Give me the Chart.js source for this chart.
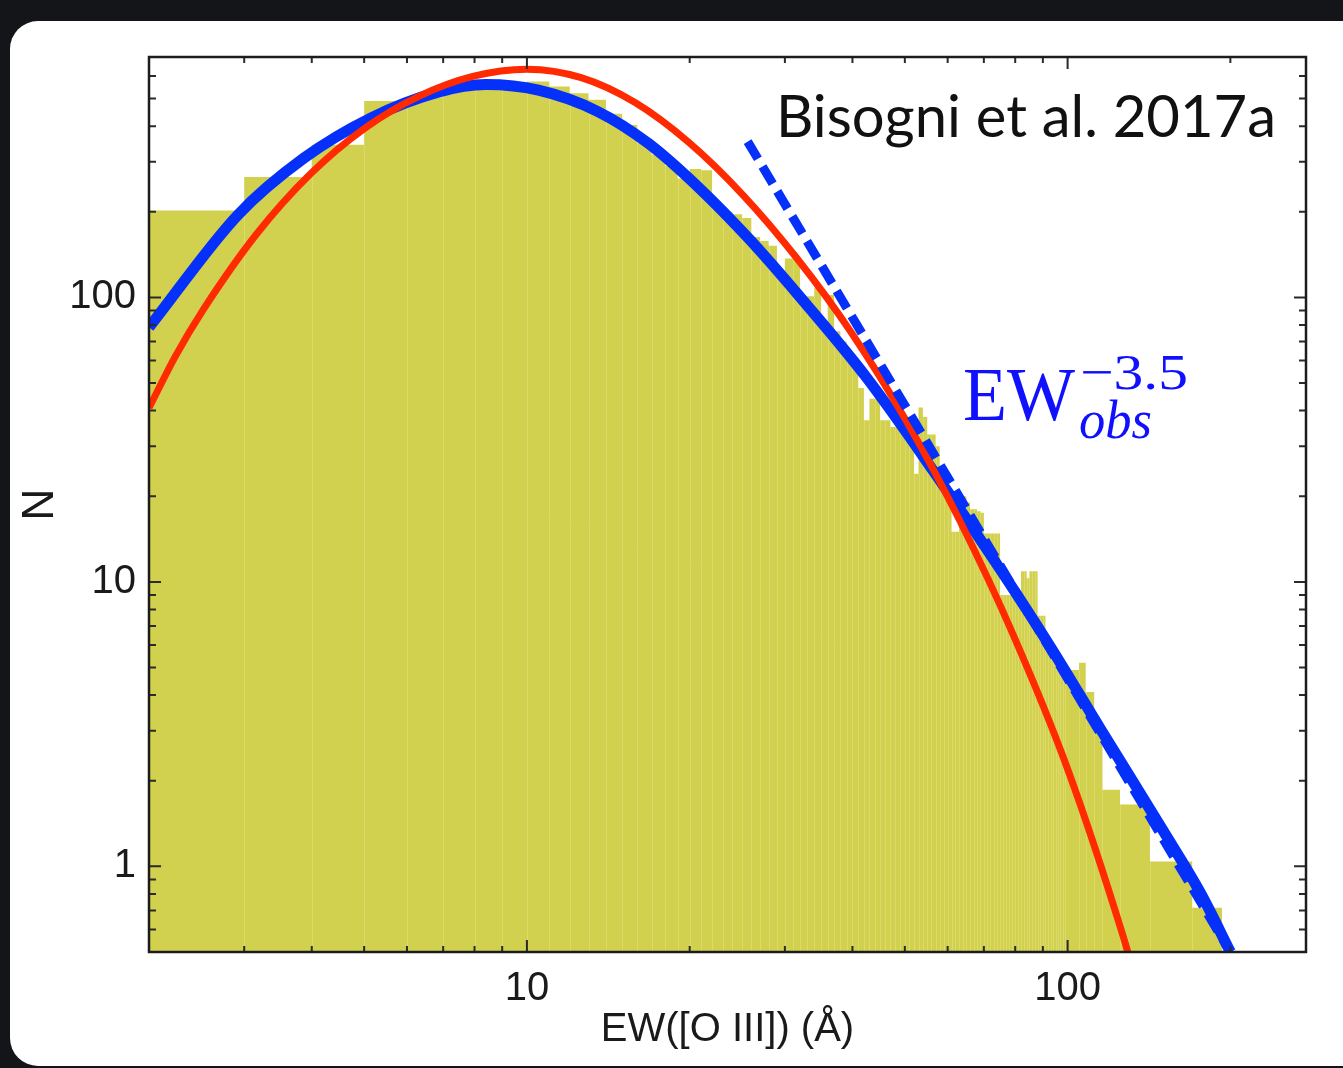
<!DOCTYPE html>
<html>
<head>
<meta charset="utf-8">
<script src="https://cdn.jsdelivr.net/npm/chart.js@4.4.0/dist/chart.umd.min.js"></script>
<style>
  html, body { margin:0; padding:0; width:1343px; height:1068px; overflow:hidden; background:#141518; }
  #card { position:absolute; left:10px; top:21px; width:1400px; height:1045px; background:#ffffff; border-radius:28px; }
  #c { position:absolute; left:0; top:0; }
</style>
</head>
<body>
<div id="card"></div>
<canvas id="c" width="1343" height="1068"></canvas>
<script>
// ---------------- data ----------------
// histogram: left bin edges (EW, Å) and counts N; last bin ends at binEnd
const binEdges = [2,3,4,5,6,7,8,9,10,11,12,13,14,15,16,17,18,19,20,21,22,23,24,25,26,27,28,29,30,31,32,33,34,35,36,37,38,39,40,41,42,43,44,45,46,47,48,49,50,51,52,53,54,55,56,57,58,59,60,61,62,63,64,65,66,67,68,69,70,71,72,73,74,75,76,77,78,79,80,81,82,83,84,85,86,87,88,89,90,91,92,93,94,95,96,97,98,99,105,108,112,116,125,142,170];
const binCounts = [202,265,344,490,505,535,548,556,574,551,522,495,442,404,348,318,290,262,283,280,205,200,196,190,163,158,152,120,137,137,101,101,108,81,102,76,70,64,59,48,37,44,44,37,37,35,35,35,34,33,24,41,38,33,33,30,24,23,21,15,15,20,20,19,18,18,17.7,17.5,14.8,14.8,14.8,14.8,14.8,9,9,9,9,9,9,9,10.9,10.9,10.3,10.9,10.9,10.9,7.6,7.6,7.6,6.6,6.4,6.1,5.9,5.6,5.4,5.2,5.0,4.9,5.2,4.1,3.1,1.86,1.65,1.04,0.715];
const binEnd = 193;

// blue solid curve
const blueEW = [2.0,2.92,3.87,5.14,6.85,8.4,10.5,13.5,16.8,20.8,25.8,31.9,42.4,56.5,75,93,114.9,150,176.5,200];
const blueN  = [78.5,195,309,427,527,560,535,451,347,243,160,101,52.5,24.5,11.1,5.9,3.05,1.34,0.80,0.50];

// red solid curve
const redEW = [2.0,2.24,2.51,3.16,3.98,5.01,6.31,7.94,10.0,12.6,15.85,19.95,25.1,31.6,39.8,50.1,63.1,79.4,100,125.9,141];
const redN  = [40.9,62.3,89.5,166.7,272,393,509,598,634,592,484,350,229,137,75.3,37.3,16.5,6.49,2.20,0.59,0.28];

// dashed power-law line EW^-3.5 (end points)
const lawEW = [25.6, 200];
const lawN  = [353, 0.5];

// axes
const xRange = [2, 276];
const yRange = [0.5, 700];
const xTickLabels = [10, 100];
const yTickLabels = [1, 10, 100];
const xMinorTicks = [3,4,5,6,7,8,9,20,30,40,50,60,70,80,90,200];
const yMinorTicks = [0.6,0.7,0.8,0.9,2,3,4,5,6,7,8,9,20,30,40,50,60,70,80,90,200,300,400,500,600];

const xTitle = 'EW([O III]) (Å)';
const yTitle = 'N';
const refText = 'Bisogni et al. 2017a';
const lawMain = 'EW', lawSup = '−3.5', lawSub = 'obs';

// ---------------- build ----------------
const histPts = binEdges.map((e, i) => ({x: e, y: binCounts[i]}));
histPts.push({x: binEnd, y: binCounts[binCounts.length - 1]});
const pts = (xs, ys) => xs.map((v, i) => ({x: v, y: ys[i]}));

const BLUE = '#0530fa';
const RED = '#ff2a00';
const HIST = '#d2d04f';

const decor = {
  id: 'decor',
  afterDatasetDraw(chart, args) {
    if (args.index !== 0) return;
    const {ctx, chartArea: a, scales: {x, y}} = chart;
    ctx.save();
    ctx.beginPath(); ctx.rect(a.left, a.top, a.right - a.left, a.bottom - a.top); ctx.clip();
    ctx.strokeStyle = 'rgba(232,232,140,0.45)';
    ctx.lineWidth = 1;
    for (let i = 1; i < binEdges.length; i++) {
      const px = Math.round(x.getPixelForValue(binEdges[i])) + 0.5;
      const top = y.getPixelForValue(Math.min(binCounts[i - 1], binCounts[i]));
      ctx.beginPath(); ctx.moveTo(px, a.bottom); ctx.lineTo(px, top); ctx.stroke();
    }
    ctx.restore();
  },
  afterDraw(chart) {
    const {ctx, chartArea: a, scales: {x, y}} = chart;
    ctx.save();
    // ticks (inward, all four sides)
    ctx.strokeStyle = '#2a2a2a';
    ctx.lineWidth = 2;
    const vt = (v, len) => {
      const px = x.getPixelForValue(v);
      ctx.beginPath(); ctx.moveTo(px, a.bottom); ctx.lineTo(px, a.bottom - len);
      ctx.moveTo(px, a.top); ctx.lineTo(px, a.top + len); ctx.stroke();
    };
    const ht = (v, len) => {
      const py = y.getPixelForValue(v);
      ctx.beginPath(); ctx.moveTo(a.left, py); ctx.lineTo(a.left + len, py);
      ctx.moveTo(a.right, py); ctx.lineTo(a.right - len, py); ctx.stroke();
    };
    xTickLabels.forEach(v => vt(v, 12));
    xMinorTicks.forEach(v => vt(v, 6));
    yTickLabels.forEach(v => ht(v, 12));
    yMinorTicks.forEach(v => ht(v, 7));
    // frame
    ctx.strokeStyle = '#1c1c1c';
    ctx.lineWidth = 2.5;
    ctx.strokeRect(a.left, a.top, a.right - a.left, a.bottom - a.top);

    // annotations
    const fitText = (txt, font, color, left, base, width) => {
      ctx.font = font;
      ctx.fillStyle = color;
      ctx.textAlign = 'left';
      ctx.textBaseline = 'alphabetic';
      const w = ctx.measureText(txt).width;
      ctx.save();
      ctx.translate(left, base);
      ctx.scale(width / w, 1);
      ctx.fillText(txt, 0, 0);
      ctx.restore();
    };
    fitText(refText, '58px Lato', '#111111', 776, 137, 500);
    fitText(lawMain, '76px "Liberation Serif"', '#1010ff', 963, 420, 112);
    fitText(lawSup, '50px "Liberation Serif"', '#1010ff', 1080, 389, 108);
    fitText(lawSub, 'italic 54px "Liberation Serif"', '#1010ff', 1079, 438, 73);
    ctx.restore();
  }
};

new Chart(document.getElementById('c'), {
  type: 'line',
  data: {
    datasets: [
      { label: 'hist', data: histPts, stepped: 'before', fill: 'start', backgroundColor: HIST,
        borderColor: 'rgba(0,0,0,0)', borderWidth: 0, pointRadius: 0, order: 4, clip: 0 },
      { label: 'blue', data: pts(blueEW, blueN), borderColor: BLUE, borderWidth: 11,
        pointRadius: 0, cubicInterpolationMode: 'monotone', fill: false, order: 3, clip: 0 },
      { label: 'red', data: pts(redEW, redN), borderColor: RED, borderWidth: 7,
        pointRadius: 0, cubicInterpolationMode: 'monotone', fill: false, order: 2, clip: 0 },
      { label: 'law', data: pts(lawEW, lawN), borderColor: BLUE, borderWidth: 9,
        borderDash: [20, 9], borderCapStyle: 'butt', pointRadius: 0, fill: false, order: 1, clip: 0 }
    ]
  },
  options: {
    responsive: false,
    animation: false,
    devicePixelRatio: 1,
    layout: { padding: { top: 57, right: 37, left: 0, bottom: 0 } },
    plugins: { legend: { display: false }, tooltip: { enabled: false } },
    scales: {
      x: {
        type: 'logarithmic', min: xRange[0], max: xRange[1],
        grid: { display: false, drawTicks: false }, border: { display: false },
        afterBuildTicks: s => { s.ticks = xTickLabels.map(v => ({value: v})); },
        afterFit: s => { s.height = 116; },
        ticks: { autoSkip: false, maxRotation: 0, padding: 13, color: '#1a1a1a',
                 font: { family: '"Liberation Sans", Arial, sans-serif', size: 40 },
                 callback: v => String(v) },
        title: { display: true, text: xTitle, color: '#1a1a1a',
                 font: { family: '"Liberation Sans", Arial, sans-serif', size: 40 },
                 padding: { top: 0, bottom: 14 } }
      },
      y: {
        type: 'logarithmic', min: yRange[0], max: yRange[1],
        grid: { display: false, drawTicks: false }, border: { display: false },
        afterBuildTicks: s => { s.ticks = yTickLabels.map(v => ({value: v})); },
        afterFit: s => { s.width = 149; },
        ticks: { autoSkip: false, padding: 13, color: '#1a1a1a',
                 font: { family: '"Liberation Sans", Arial, sans-serif', size: 40 },
                 callback: v => String(v) },
        title: { display: true, text: yTitle, color: '#1a1a1a',
                 font: { family: '"Liberation Sans", Arial, sans-serif', size: 44 },
                 padding: { top: 14, bottom: 0 } }
      }
    }
  },
  plugins: [decor]
});
</script>
</body>
</html>
